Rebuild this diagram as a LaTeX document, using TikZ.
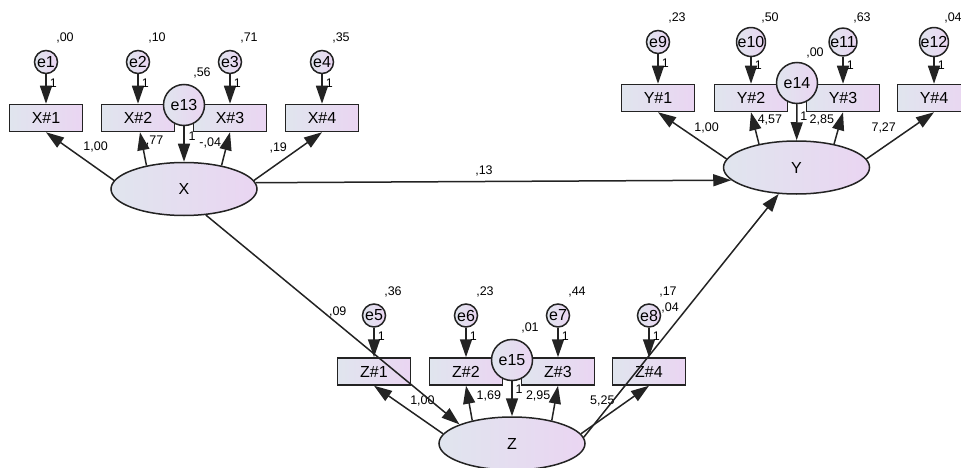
\documentclass[tikz,border=0pt]{standalone}
\usepackage{fontspec}
\setmainfont{Liberation Sans}
\usetikzlibrary{arrows.meta,shapes.geometric}

\definecolor{fundoA}{RGB}{224,229,238}
\definecolor{fundoB}{RGB}{234,213,242}
\definecolor{contorno}{RGB}{35,35,35}

\tikzset{
    observada/.style={draw=contorno, line width=1.5pt, left color=fundoA, right color=fundoB,
        minimum width=73pt, minimum height=27pt, inner sep=0pt, font=\fontsize{16}{18}\selectfont},
    erro/.style={circle, draw=contorno, line width=1.5pt, left color=fundoA, right color=fundoB,
        minimum size=23pt, inner sep=0pt, font=\fontsize{16}{18}\selectfont},
    residuo/.style={erro, minimum size=41pt},
    latente/.style={ellipse, draw=contorno, line width=1.5pt, left color=fundoA, right color=fundoB,
        minimum width=146pt, minimum height=53pt, inner sep=0pt, font=\fontsize{16}{18}\selectfont},
    seta/.style={-{Triangle[length=18pt,width=12pt]}, line width=1.5pt, draw=contorno},
    valor/.style={font=\fontsize{12.5}{14}\selectfont, inner sep=0pt},
    um/.style={valor, right, inner sep=3pt},
    pics/indicador/.style args={#1/#2/#3}{
        code={
            \node[observada] (-caixa) {#1};
            \node[erro] (-erro) at (0,-56) {#2};
            \node[valor] at ([shift={(19,-24)}]-erro) {,#3};
            \draw[seta] (-erro) -- node[um, pos=0.3] {1} (-caixa);
        }
    }
}

\begin{document}
\begin{tikzpicture}[x=1pt, y=-1pt]
\useasboundingbox (0,0) rectangle (961,468);

% indicadores
\pic (X1) at (46,118) {indicador=X\#1/e1/00};
\pic (X2) at (138,118) {indicador=X\#2/e2/10};
\pic (X3) at (230,118) {indicador=X\#3/e3/71};
\pic (X4) at (322,118) {indicador=X\#4/e4/35};

\pic (Z1) at (374,371.5) {indicador=Z\#1/e5/36};
\pic (Z2) at (466,371.5) {indicador=Z\#2/e6/23};
\pic (Z3) at (558,371.5) {indicador=Z\#3/e7/44};
\pic (Z4) at (649,371.5) {indicador=Z\#4/e8/17};

\pic (Y1) at (658,98) {indicador=Y\#1/e9/23};
\pic (Y2) at (751,98) {indicador=Y\#2/e10/50};
\pic (Y3) at (843,98) {indicador=Y\#3/e11/63};
\pic (Y4) at (934,98) {indicador=Y\#4/e12/04};

% residuos
\node[residuo] (e13) at (184,105) {e13};
\node[valor] at ([shift={(18,-32)}]e13) {,56};
\node[residuo] (e14) at (797,83) {e14};
\node[valor] at ([shift={(18,-30)}]e14) {,00};
\node[residuo] (e15) at (512,360) {e15};
\node[valor] at ([shift={(18,-32)}]e15) {,01};

% latentes
\node[latente] (X) at (184,189) {X};
\node[latente] (Y) at (796.5,167.5) {Y};
\node[latente] (Z) at (512,443.5) {Z};

% cargas
\draw[seta] (X.173) -- node[valor, pos=0.69, xshift=28.5pt] {1,00} (X1-caixa.south);
\draw[seta] (X.148) -- node[valor, pos=0.75, xshift=13pt] {,77} ([xshift=2pt]X2-caixa.south);
\draw[seta] (X.32) -- node[valor, pos=0.67, xshift=-17pt] {-,04} (X3-caixa.south);
\draw[seta] (X.7) -- node[valor, pos=0.68, xshift=-22pt] {,19} (X4-caixa.south);
\draw[seta] (e13) -- node[valor, pos=0.27, xshift=8pt] {1} (X);

\draw[seta] (Y.173) -- node[valor, pos=0.67, xshift=26pt] {1,00} (Y1-caixa.south);
\draw[seta] (Y.148) -- node[valor, pos=0.76, xshift=17pt] {4,57} (Y2-caixa.south);
\draw[seta] (Y.32) -- node[valor, pos=0.76, xshift=-19pt] {2,85} (Y3-caixa.south);
\draw[seta] (Y.7) -- node[valor, pos=0.67, xshift=-28pt] {7,27} (Y4-caixa.south);
\draw[seta] (e14) -- node[valor, pos=0.32, xshift=7pt] {1} (Y);

\draw[seta] (Z.172) -- node[valor, pos=0.69, xshift=27pt] {1,00} (Z1-caixa.south);
\draw[seta] (Z.150) -- node[valor, pos=0.71, xshift=21pt] {1,69} (Z2-caixa.south);
\draw[seta] (Z.30) -- node[valor, pos=0.71, xshift=-18pt] {2,95} (Z3-caixa.south);
\draw[seta] (Z.8) -- node[valor, pos=0.69, xshift=-25.5pt] {5,25} (Z4-caixa.south);
\draw[seta] (e15) -- node[valor, pos=0.22, xshift=7pt] {1} (Z);

% caminhos estruturais
\draw[seta] (X.5) -- node[valor, pos=0.48, yshift=11pt] {,13} (Y.191);
\draw[seta] (X.310) -- node[valor, pos=0.52, yshift=12pt] {,09} (Z.160);
\draw[seta] (Z.5) -- node[valor, pos=0.53, xshift=-17pt] {,04} (Y.236);
\end{tikzpicture}
\end{document}
